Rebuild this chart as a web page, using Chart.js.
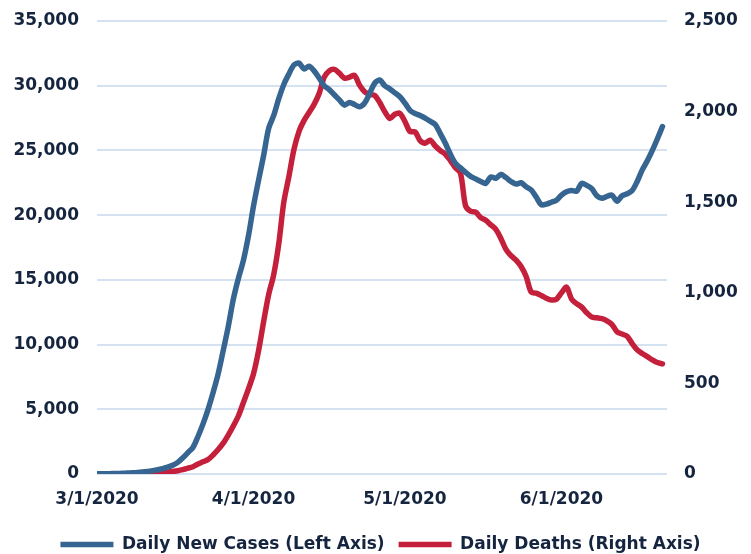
<!DOCTYPE html>
<html>
<head>
<meta charset="utf-8">
<script src="https://cdn.jsdelivr.net/npm/chart.js@4.4.1/dist/chart.umd.min.js"></script>
<style>
  html, body { margin: 0; padding: 0; background: #ffffff; }
  #wrap { width: 751px; height: 554px; position: relative; }
</style>
</head>
<body>
<div id="wrap"><canvas id="c"></canvas></div>
<script>
// Categories: one per day, 3/1/2020 .. 6/21/2020
const dates = [
  '3/1/2020','3/2/2020','3/3/2020','3/4/2020','3/5/2020','3/6/2020','3/7/2020','3/8/2020','3/9/2020','3/10/2020',
  '3/11/2020','3/12/2020','3/13/2020','3/14/2020','3/15/2020','3/16/2020','3/17/2020','3/18/2020','3/19/2020','3/20/2020',
  '3/21/2020','3/22/2020','3/23/2020','3/24/2020','3/25/2020','3/26/2020','3/27/2020','3/28/2020','3/29/2020','3/30/2020','3/31/2020',
  '4/1/2020','4/2/2020','4/3/2020','4/4/2020','4/5/2020','4/6/2020','4/7/2020','4/8/2020','4/9/2020','4/10/2020',
  '4/11/2020','4/12/2020','4/13/2020','4/14/2020','4/15/2020','4/16/2020','4/17/2020','4/18/2020','4/19/2020','4/20/2020',
  '4/21/2020','4/22/2020','4/23/2020','4/24/2020','4/25/2020','4/26/2020','4/27/2020','4/28/2020','4/29/2020','4/30/2020',
  '5/1/2020','5/2/2020','5/3/2020','5/4/2020','5/5/2020','5/6/2020','5/7/2020','5/8/2020','5/9/2020','5/10/2020',
  '5/11/2020','5/12/2020','5/13/2020','5/14/2020','5/15/2020','5/16/2020','5/17/2020','5/18/2020','5/19/2020','5/20/2020',
  '5/21/2020','5/22/2020','5/23/2020','5/24/2020','5/25/2020','5/26/2020','5/27/2020','5/28/2020','5/29/2020','5/30/2020','5/31/2020',
  '6/1/2020','6/2/2020','6/3/2020','6/4/2020','6/5/2020','6/6/2020','6/7/2020','6/8/2020','6/9/2020','6/10/2020',
  '6/11/2020','6/12/2020','6/13/2020','6/14/2020','6/15/2020','6/16/2020','6/17/2020','6/18/2020','6/19/2020','6/20/2020','6/21/2020'
];

// Daily new cases (left axis)
const dailyCases = [
  10,15,20,30,40,55,70,90,115,150,
  200,260,330,420,530,680,900,1250,1650,2050,
  2900,3870,5000,6300,7740,9540,11400,13500,15100,16500,18400,
  20700,22700,24600,26700,27700,29000,30100,30900,31600,31750,
  31300,31500,31150,30600,30000,29700,29300,28900,28500,28700,
  28550,28370,28650,29400,30190,30440,30000,29750,29450,29150,
  28650,28100,27850,27700,27500,27250,27000,26300,25550,24700,
  24000,23650,23300,23000,22800,22600,22450,22950,22850,23150,
  22900,22600,22400,22500,22200,21950,21400,20800,20850,21000,21150,
  21550,21800,21900,21850,22450,22300,22050,21500,21300,21450,
  21540,21080,21500,21650,21900,22600,23500,24200,25000,25900,26850
];

// Daily deaths (right axis)
const dailyDeaths = [
  0,0,0,1,1,1,2,2,3,4,
  5,6,7,9,11,14,18,24,32,40,
  55,67,80,105,135,170,215,265,320,395,470,
  553,680,840,990,1100,1270,1500,1640,1790,1890,
  1950,1995,2040,2100,2190,2225,2233,2212,2185,2190,
  2200,2146,2110,2095,2090,2050,2000,1962,1985,1990,
  1945,1890,1888,1840,1826,1842,1810,1785,1765,1730,
  1690,1660,1480,1450,1445,1415,1400,1375,1350,1300,
  1240,1205,1180,1145,1090,1004,998,985,970,960,965,
  1000,1031,965,940,921,890,866,862,857,845,
  825,785,772,760,720,685,665,648,630,615,608
];

const seriesNames = ['Daily New Cases (Left Axis)', 'Daily Deaths (Right Axis)'];
const xTickLabels = ['3/1/2020', '4/1/2020', '5/1/2020', '6/1/2020'];
const leftTicks = [0, 5000, 10000, 15000, 20000, 25000, 30000, 35000];
const rightTicks = [0, 500, 1000, 1500, 2000, 2500];

const BLUE = '#376591';
const RED = '#c4203b';
const TEXT = '#15253f';
const GRID = '#d4e2f2';
const FONT = { family: '"DejaVu Sans", sans-serif', weight: 'bold', size: 17 };

const toPoints = arr => arr.map((v, i) => ({ x: i, y: v }));
const fmt = v => Number(v).toLocaleString('en-US');

new Chart(document.getElementById('c'), {
  type: 'line',
  data: {
    datasets: [
      {
        label: seriesNames[0],
        data: toPoints(dailyCases),
        yAxisID: 'yL',
        borderColor: BLUE,
        backgroundColor: BLUE,
        borderWidth: 5.5,
        borderCapStyle: 'round',
        borderJoinStyle: 'round',
        pointRadius: 0,
        tension: 0.3,
        fill: false
      },
      {
        label: seriesNames[1],
        data: toPoints(dailyDeaths),
        yAxisID: 'yR',
        borderColor: RED,
        backgroundColor: RED,
        borderWidth: 5.5,
        borderCapStyle: 'round',
        borderJoinStyle: 'round',
        pointRadius: 0,
        tension: 0.3,
        fill: false
      }
    ]
  },
  options: {
    responsive: true,
    maintainAspectRatio: false,
    animation: false,
    devicePixelRatio: 1,
    layout: { padding: { top: 21, left: 10, right: 0, bottom: -9 } },
    plugins: {
      tooltip: { enabled: false },
      legend: {
        position: 'bottom',
        labels: {
          color: TEXT,
          font: FONT,
          usePointStyle: true,
          pointStyle: 'line',
          pointStyleWidth: 53,
          boxHeight: 17,
          padding: 14
        }
      }
    },
    scales: {
      x: {
        type: 'linear',
        min: 0,
        max: 112.9,
        grid: { display: false },
        border: { display: false },
        afterBuildTicks: scale => {
          scale.ticks = xTickLabels.map(l => ({ value: dates.indexOf(l) }));
        },
        afterFit: scale => { scale.height = 48; },
        ticks: {
          autoSkip: false,
          maxRotation: 0,
          color: TEXT,
          font: FONT,
          padding: 7,
          callback: v => dates[v]
        }
      },
      yL: {
        type: 'linear',
        position: 'left',
        min: 0,
        max: 35000,
        grid: { color: GRID, lineWidth: 2, drawTicks: true, tickLength: 18, tickColor: 'rgba(0,0,0,0)' },
        border: { display: false },
        afterBuildTicks: scale => { scale.ticks = leftTicks.map(v => ({ value: v })); },
        afterFit: scale => { scale.width = 87; },
        ticks: { color: TEXT, font: FONT, padding: 0, callback: v => fmt(v) }
      },
      yR: {
        type: 'linear',
        position: 'right',
        min: 0,
        max: 2500,
        grid: { display: false, drawTicks: true, tickLength: 17 },
        border: { display: false },
        afterBuildTicks: scale => { scale.ticks = rightTicks.map(v => ({ value: v })); },
        afterFit: scale => { scale.width = 84; },
        ticks: { color: TEXT, font: FONT, padding: 0, callback: v => fmt(v) }
      }
    }
  }
});
</script>
</body>
</html>
